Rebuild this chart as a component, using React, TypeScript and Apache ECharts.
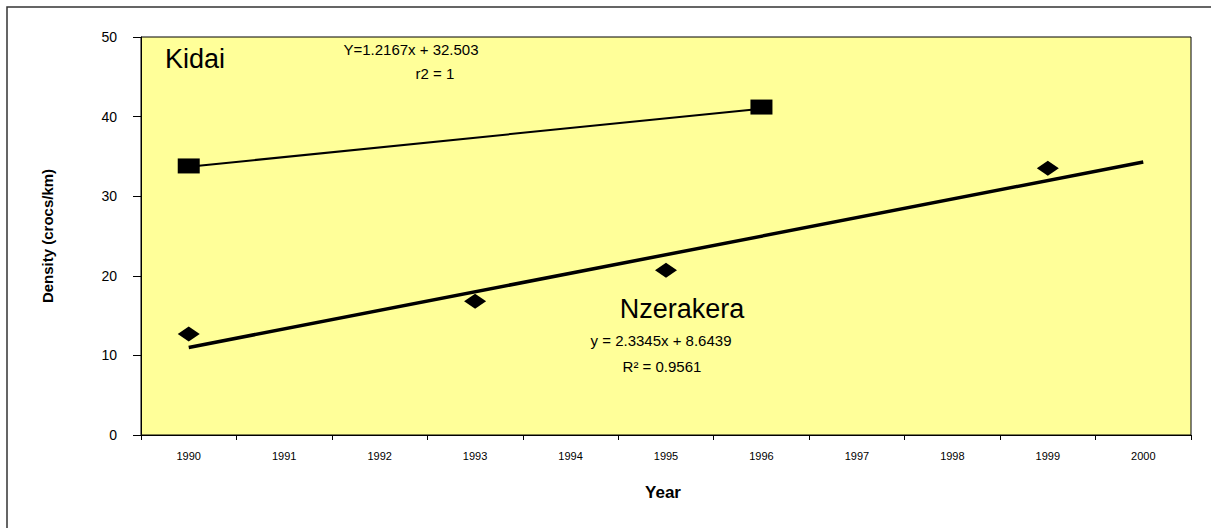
import React, { useEffect, useRef } from "react";
import * as echarts from "echarts";

const years = ["1990", "1991", "1992", "1993", "1994", "1995", "1996", "1997", "1998", "1999", "2000"];
const yTicks = [0, 10, 20, 30, 40, 50];

// Kidai observations (squares)
const kidaiYears = ["1990", "1996"];
const kidaiValues = [33.8, 41.2];
// Kidai trend line endpoints
const kidaiTrendYears = ["1990", "1996"];
const kidaiTrendValues = [33.7, 41.0];

// Nzerakera observations (diamonds)
const nzYears = ["1990", "1993", "1995", "1999"];
const nzValues = [12.7, 16.8, 20.7, 33.5];
// Nzerakera trend line endpoints
const nzTrendYears = ["1990", "2000"];
const nzTrendValues = [11.0, 34.3];

const FONT = "'Liberation Sans', Arial, sans-serif";

export default function App() {
  const ref = useRef<HTMLDivElement>(null);

  useEffect(() => {
    if (!ref.current) return;
    const chart = echarts.init(ref.current, undefined, { renderer: "svg" });
    const diamond = "path://M0,-1 L1,0 L0,1 L-1,0 Z";
    chart.setOption({
      animation: false,
      backgroundColor: "#ffffff",
      textStyle: { fontFamily: FONT },
      grid: {
        left: 141,
        top: 37,
        width: 1050,
        height: 398,
        show: true,
        backgroundColor: "#ffff99",
        borderColor: "#000000",
        borderWidth: 1,
      },
      xAxis: {
        type: "category",
        data: years,
        boundaryGap: true,
        axisLine: { lineStyle: { color: "#000", width: 1 } },
        axisTick: { show: true, length: 5, lineStyle: { color: "#000" } },
        axisLabel: { interval: 0, color: "#000", fontSize: 11, margin: 15, fontFamily: FONT },
        splitLine: { show: false },
      },
      yAxis: {
        type: "value",
        min: yTicks[0],
        max: yTicks[yTicks.length - 1],
        interval: 10,
        axisLine: { show: true, lineStyle: { color: "#000", width: 1 } },
        axisTick: { show: true, length: 8, lineStyle: { color: "#000" } },
        axisLabel: { color: "#000", fontSize: 14, margin: 24, fontFamily: FONT },
        splitLine: { show: false },
      },
      series: [
        {
          name: "Kidai trend",
          type: "line",
          data: kidaiTrendYears.map((y, i) => [y, kidaiTrendValues[i]]),
          showSymbol: false,
          symbol: "none",
          lineStyle: { color: "#000", width: 2 },
          z: 2,
        },
        {
          name: "Kidai",
          type: "scatter",
          data: kidaiYears.map((y, i) => [y, kidaiValues[i]]),
          symbol: "rect",
          symbolSize: [22, 15],
          itemStyle: { color: "#000", opacity: 1 },
          z: 3,
        },
        {
          name: "Nzerakera trend",
          type: "line",
          data: nzTrendYears.map((y, i) => [y, nzTrendValues[i]]),
          showSymbol: false,
          symbol: "none",
          lineStyle: { color: "#000", width: 3.5 },
          z: 2,
        },
        {
          name: "Nzerakera",
          type: "scatter",
          data: nzYears.map((y, i) => [y, nzValues[i]]),
          symbol: diamond,
          symbolSize: [22, 15],
          itemStyle: { color: "#000", opacity: 1 },
          z: 3,
        },
      ],
      graphic: [
        {
          type: "rect",
          shape: { x: 7, y: 7, width: 1400, height: 800 },
          style: { fill: "none", stroke: "#333", lineWidth: 1.5 },
          z: -1,
          silent: true,
        },
        {
          type: "text",
          x: 47,
          y: 236,
          rotation: Math.PI / 2,
          style: {
            text: "Density (crocs/km)",
            font: `bold 15px ${FONT}`,
            fill: "#000",
            align: "center",
            verticalAlign: "middle",
          },
        },
        {
          type: "text",
          x: 663,
          y: 492,
          style: {
            text: "Year",
            font: `bold 17px ${FONT}`,
            fill: "#000",
            align: "center",
            verticalAlign: "middle",
          },
        },
        {
          type: "text",
          x: 165,
          y: 59,
          style: {
            text: "Kidai",
            font: `27px ${FONT}`,
            fill: "#000",
            align: "left",
            verticalAlign: "middle",
          },
        },
        {
          type: "text",
          x: 411,
          y: 49,
          style: {
            text: "Y=1.2167x + 32.503",
            font: `15px ${FONT}`,
            fill: "#000",
            align: "center",
            verticalAlign: "middle",
          },
        },
        {
          type: "text",
          x: 435,
          y: 73,
          style: {
            text: "r2 = 1",
            font: `15px ${FONT}`,
            fill: "#000",
            align: "center",
            verticalAlign: "middle",
          },
        },
        {
          type: "text",
          x: 682,
          y: 309,
          style: {
            text: "Nzerakera",
            font: `27px ${FONT}`,
            fill: "#000",
            align: "center",
            verticalAlign: "middle",
          },
        },
        {
          type: "text",
          x: 661,
          y: 340,
          style: {
            text: "y = 2.3345x + 8.6439",
            font: `15px ${FONT}`,
            fill: "#000",
            align: "center",
            verticalAlign: "middle",
          },
        },
        {
          type: "text",
          x: 662,
          y: 366,
          style: {
            text: "R² = 0.9561",
            font: `15px ${FONT}`,
            fill: "#000",
            align: "center",
            verticalAlign: "middle",
          },
        },
      ],
    });
    return () => chart.dispose();
  }, []);

  return (
    <div
      ref={ref}
      style={{ position: "fixed", left: 0, top: 0, width: 1211, height: 528 }}
    />
  );
}
